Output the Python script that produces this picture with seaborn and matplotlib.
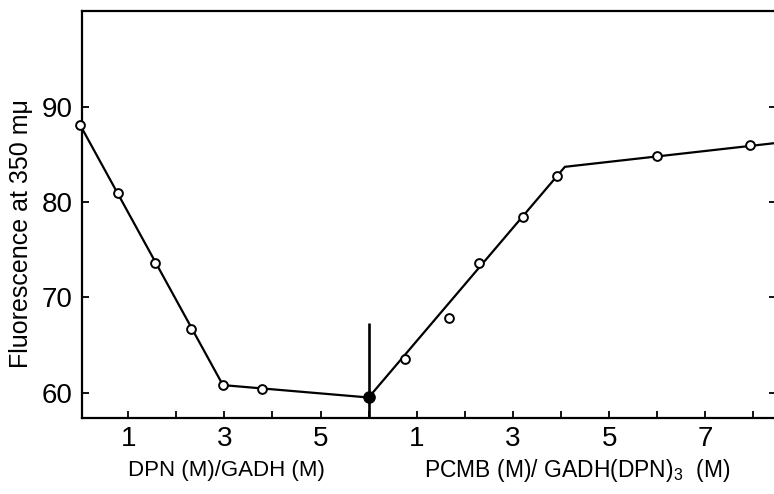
import matplotlib
matplotlib.use("Agg")
import matplotlib.pyplot as plt
import seaborn as sns
import pandas as pd

# ---- data ----
dpn_x = [0.0, 0.79, 1.55, 2.31, 2.97, 3.79]
dpn_y = [88.1, 81.0, 73.6, 66.7, 60.8, 60.4]
pcmb_x = [0.75, 1.68, 2.30, 3.21, 3.92, 6.0, 7.93]
pcmb_y = [63.5, 67.8, 73.6, 78.4, 82.7, 84.8, 86.0]
junction_x = [6.0]          # DPN ratio 6 == PCMB ratio 0
junction_y = [59.5]
dpn_fit_x = [0.0, 2.97, 6.0]
dpn_fit_y = [88.1, 60.8, 59.5]
pcmb_fit_x = [0.0, 4.08, 8.47]
pcmb_fit_y = [59.5, 83.7, 86.2]
divider_x = 6.0
divider_top = 67.35
pcmb_offset = 6.0
y_ticks = [60, 70, 80, 90]
x_ticks = list(range(1, 15))
x_tick_labels = ["1", "", "3", "", "5", "", "1", "", "3", "", "5", "", "7", ""]
y_label = "Fluorescence at 350 m\u03bc"
x_label_left = "DPN (M)/GADH (M)"
x_label_right = "PCMB (M)/ GADH(DPN)$_3$  (M)"

sns.set_style("ticks")
FONT = ["Liberation Sans", "DejaVu Sans"]
plt.rcParams["font.family"] = FONT
plt.rcParams["text.color"] = "black"
plt.rcParams["mathtext.fontset"] = "custom"
plt.rcParams["mathtext.rm"] = "Liberation Sans"
plt.rcParams["mathtext.it"] = "Liberation Sans"

W, H = 774, 494
fig = plt.figure(figsize=(W / 100, H / 100), dpi=100)
left_px, right_px, top_px, bottom_px = 82, 776, 10.7, 417.7
ax = fig.add_axes([left_px / W, (H - bottom_px) / H,
                   (right_px - left_px) / W, (bottom_px - top_px) / H])

df_fit_l = pd.DataFrame({"x": dpn_fit_x, "y": dpn_fit_y})
df_fit_r = pd.DataFrame({"x": [v + pcmb_offset for v in pcmb_fit_x], "y": pcmb_fit_y})
df_pts = pd.DataFrame({"x": dpn_x + [v + pcmb_offset for v in pcmb_x],
                       "y": dpn_y + pcmb_y})
df_j = pd.DataFrame({"x": junction_x, "y": junction_y})

ylo, yhi = 57.38, 100.08
ax.vlines(divider_x, ylo, divider_top, color="black", lw=1.9, zorder=2)
sns.lineplot(data=df_fit_l, x="x", y="y", ax=ax, color="black", lw=1.6,
             sort=False, estimator=None, zorder=2)
sns.lineplot(data=df_fit_r, x="x", y="y", ax=ax, color="black", lw=1.6,
             sort=False, estimator=None, zorder=2)
sns.scatterplot(data=df_pts, x="x", y="y", ax=ax, s=40, marker="o",
                facecolor="white", edgecolor="black", linewidth=1.4,
                zorder=3, clip_on=False)
sns.scatterplot(data=df_j, x="x", y="y", ax=ax, s=70, marker="o",
                color="black", edgecolor="black", zorder=4, clip_on=False)

ax.set_xlim(0.04, 14.47)
ax.set_ylim(ylo, yhi)
ax.set_xlabel("")
ax.set_ylabel("")
ax.set_xticks(x_ticks)
ax.set_xticklabels(x_tick_labels)
ax.set_yticks(y_ticks)
ax.tick_params(axis="both", direction="in", length=5, width=1.3,
               labelsize=20, colors="black")
ax.tick_params(axis="y", right=True, pad=7)
ax.tick_params(axis="x", pad=6)
ax.spines["right"].set_visible(False)
for s in ["left", "bottom", "top"]:
    ax.spines[s].set_linewidth(1.6)
    ax.spines[s].set_color("black")

fig.text(21 / W, 1 - 234 / H, y_label, rotation=90, ha="center", va="center",
         fontsize=18, color="black")
fig.text(226 / W, 1 - 470 / H, x_label_left, ha="center", va="center",
         fontsize=16, color="black")
fig.text(577 / W, 1 - 470 / H, x_label_right, ha="center", va="center",
         fontsize=16.5, color="black")

fig.savefig("out.png", dpi=100)
